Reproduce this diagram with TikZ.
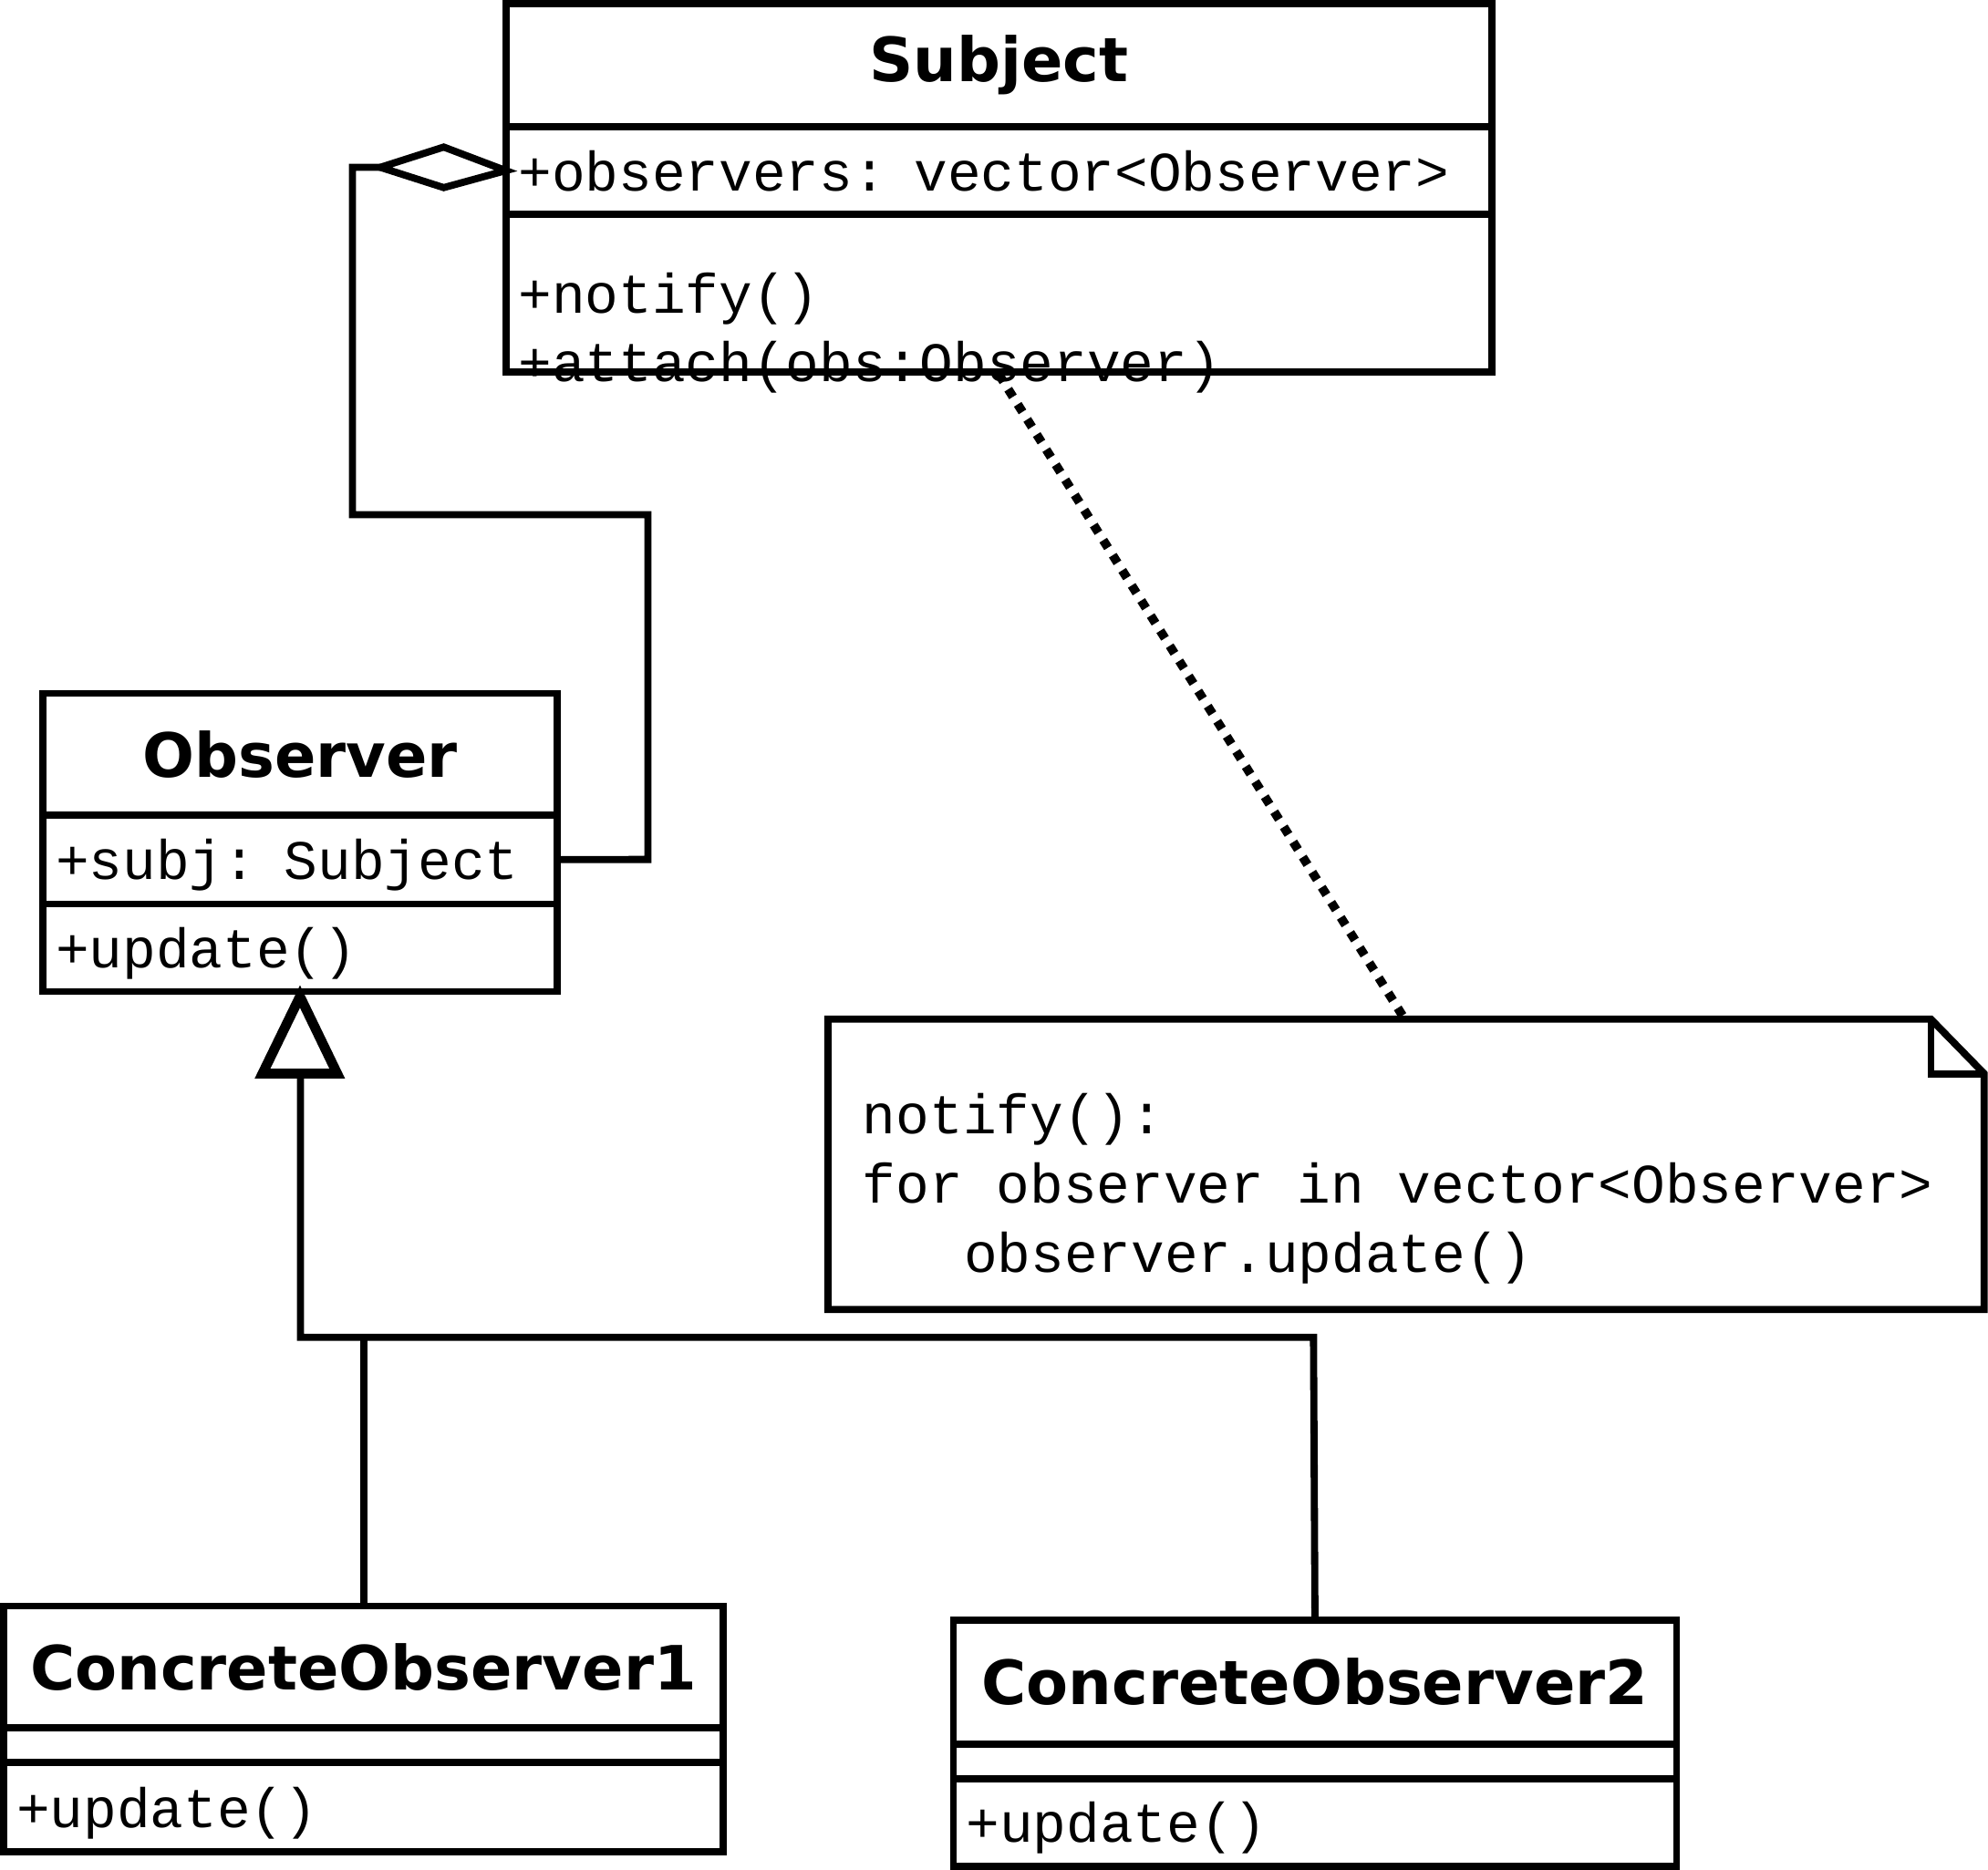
\documentclass[tikz,border=0pt]{standalone}
\usepackage{fontspec}
\setmainfont{DejaVu Sans}
\setmonofont{Liberation Mono}
\usetikzlibrary{positioning, arrows.meta, shapes.geometric}
\tikzset{
    umlpart/.style={rectangle, draw=black, line width=1.6pt, outer sep=0pt, inner sep=0.1cm},
    classtitle/.style={umlpart, font=\fontsize{13.7}{16}\selectfont\bfseries, align=center},
    classbody/.style={umlpart, font=\fontsize{12.5}{15.3}\ttfamily, align=left, text depth=0pt},
    umlline/.style={line width=1.6pt},
    notelink/.style={line width=2pt, dotted},
}
\begin{document}
\begin{tikzpicture}[x=0.01cm, y=-0.01cm]
    \useasboundingbox (0,0) rectangle (1568,1475);
    % Subject class
    \node[classtitle, minimum width=7.77cm, minimum height=0.97cm, anchor=north west] (subjT) at (399,3) {Subject};
    \node[classbody, minimum width=7.77cm, minimum height=0.69cm, text width=7.57cm, below=0pt of subjT] (subjA) {+observers: vector<Observer>};
    \node[classbody, minimum width=7.77cm, minimum height=1.24cm, text width=7.57cm, below=0pt of subjA] (subjM) {+notify()\\+attach(obs:Observer)};
    % Observer class
    \node[classtitle, minimum width=4.05cm, minimum height=0.96cm, anchor=north west] (obsT) at (34,547) {Observer};
    \node[classbody, minimum width=4.05cm, minimum height=0.70cm, text width=3.85cm, below=0pt of obsT] (obsA) {+subj: Subject};
    \node[classbody, minimum width=4.05cm, minimum height=0.69cm, text width=3.85cm, below=0pt of obsA] (obsM) {+update()};
    % concrete observers
    \node[classtitle, minimum width=5.67cm, minimum height=0.96cm, anchor=north west] (co1T) at (3,1267) {ConcreteObserver1};
    \node[classbody, minimum width=5.67cm, minimum height=0.27cm, inner sep=0pt, below=0pt of co1T] (co1A) {};
    \node[classbody, minimum width=5.67cm, minimum height=0.71cm, text width=5.47cm, below=0pt of co1A] (co1M) {+update()};
    \node[classtitle, minimum width=5.70cm, minimum height=0.98cm, anchor=north west] (co2T) at (752,1278) {ConcreteObserver2};
    \node[classbody, minimum width=5.70cm, minimum height=0.27cm, inner sep=0pt, below=0pt of co2T] (co2A) {};
    \node[classbody, minimum width=5.70cm, minimum height=0.69cm, text width=5.50cm, below=0pt of co2A] (co2M) {+update()};
    % note
    \draw[umlline] (653,804) -- (1523,804) -- (1565,847) -- (1565,1033) -- (653,1033) -- cycle;
    \draw[umlline] (1523,804) -- (1523,847) -- (1565,847);
    \node[font=\fontsize{12.5}{15.6}\ttfamily, align=left, anchor=north west] (note) at (668,850)
        {notify():\\for observer in vector<Observer>\\\hspace*{0.8cm}observer.update()};
    \coordinate (noteTop) at (1108,804);
    \draw[notelink] (subjM.south) ++(0,2) coordinate (subjB) -- (noteTop);
    % aggregation
    \coordinate (diaL) at (300,132);
    \draw[umlline, fill=white] (subjA.west) -- (350,116) -- (diaL) -- (350,148) -- cycle;
    \draw[umlline] (diaL) -- (278,132) -- (278,406) -- (511,406) -- (511,678) -- (obsA.east);
    % inheritance
    \coordinate (triB) at (237,847);
    \draw[line width=2.2pt, fill=white] (obsM.south) ++(0,4) -- (266,847) -- (207,847) -- cycle;
    \draw[umlline] (triB) -- (237,1055) -- (1036,1055) -- (co2T.north);
    \draw[umlline] (287,1055) -- (co1T.north -| 287,0);
\end{tikzpicture}
\end{document}
